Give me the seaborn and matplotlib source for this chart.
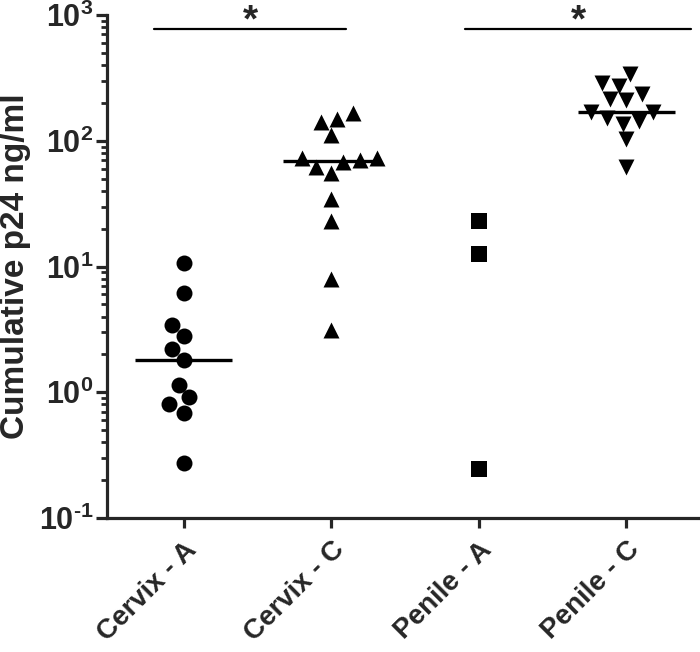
import numpy as np
import pandas as pd
import seaborn as sns
import matplotlib.pyplot as plt
from matplotlib.ticker import FixedLocator, FixedFormatter, LogLocator, NullFormatter

# Значения
groups = ["Cervix - A", "Cervix - C", "Penile - A", "Penile - C"]
cervix_a = [10.7, 6.2, 3.45, 2.78, 2.19, 1.79, 1.14, 0.91, 0.80, 0.69, 0.275]
cervix_c = [165, 149, 140, 111, 72.9, 72.9, 70.3, 67.3, 62.2, 55.0, 34.5, 22.9, 7.9, 3.1]
penile_a = [22.8, 12.5, 0.245]
penile_c = [338, 290, 273, 237, 214, 210, 168, 168, 153, 144, 137, 103, 62.2]
markers = ["o", "^", "s", "v"]
median_groups = ["Cervix - A", "Cervix - C", "Penile - C"]
yticks = [0.1, 1, 10, 100, 1000]
ytick_labels = [r"$\mathbf{10^{\text{-}1}}$", r"$\mathbf{10^{0}}$", r"$\mathbf{10^{1}}$",
                r"$\mathbf{10^{2}}$", r"$\mathbf{10^{3}}$"]
sig_pairs = [(-0.2, 1.1), (1.91, 3.44)]

values = [cervix_a, cervix_c, penile_a, penile_c]
df = pd.DataFrame({
    "group": np.repeat(groups, [len(v) for v in values]),
    "p24": np.concatenate(values),
})

sns.set_style("ticks")
plt.rcParams["font.family"] = ["Liberation Sans", "DejaVu Sans"]
plt.rcParams["font.weight"] = "bold"
plt.rcParams["mathtext.fontset"] = "custom"
plt.rcParams["mathtext.bf"] = "Liberation Sans:bold"
plt.rcParams["mathtext.rm"] = "Liberation Sans:bold"

fig = plt.figure(figsize=(7, 6.52), dpi=100)
ax = fig.add_axes([0.153, 0.2055, 0.847, 0.7715])
ax.set_yscale("log")
ax.set_ylim(0.1, 1000)

for g, m in zip(groups, markers):
    sns.swarmplot(data=df[df["group"] == g], x="group", y="p24", order=groups,
                  marker=m, color="black", size=11.5, linewidth=0, ax=ax)

# медианы
for g in median_groups:
    i = groups.index(g)
    med = np.median(df.loc[df["group"] == g, "p24"])
    ax.hlines(med, i - 0.33, i + 0.33, color="black", linewidth=2.4, zorder=5)

ax.set_xlim(-0.52, 3.5)

# линии значимости
for x1, x2 in sig_pairs:
    ax.plot([x1, x2], [770, 770], color="black", linewidth=1.6, clip_on=False)
    ax.text((x1 + x2) / 2, 880, "*", ha="center", va="center", fontsize=28,
            fontweight="bold", clip_on=False)

ax.yaxis.set_major_locator(FixedLocator(yticks))
ax.yaxis.set_major_formatter(FixedFormatter(ytick_labels))
ax.yaxis.set_minor_locator(LogLocator(base=10, subs=np.arange(2, 10)))
ax.yaxis.set_minor_formatter(NullFormatter())

ax.set_xlabel("")
ax.set_ylabel("Cumulative p24 ng/ml", fontsize=24, fontweight="bold")
ax.yaxis.set_label_coords(-0.128, 0.5)
ax.set_xticks(range(len(groups)))
ax.set_xticklabels(groups, rotation=45, ha="right", rotation_mode="anchor",
                   fontsize=20, fontweight="bold")

sns.despine(ax=ax)
for side in ["left", "bottom"]:
    ax.spines[side].set_linewidth(2.3)
ax.tick_params(axis="y", which="major", length=8, width=2.3, labelsize=22, pad=2)
ax.tick_params(axis="y", which="minor", length=4.3, width=2)
ax.tick_params(axis="x", length=7.5, width=2.3, pad=6)

fig.savefig("out.png", dpi=100)
